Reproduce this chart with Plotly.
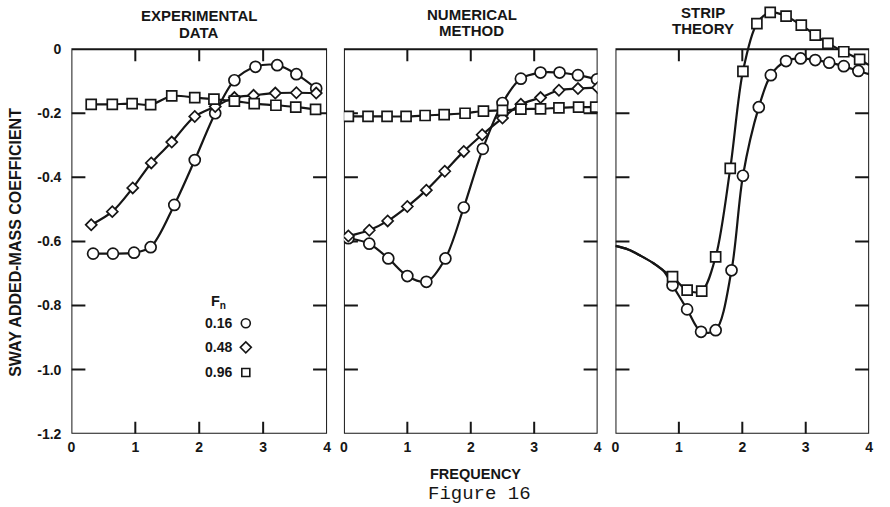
import plotly.graph_objects as go

W, H = 890, 517
GRID_H = 507  # vertical design grid (px) used for paper-relative placement

# ---- axes / labels -------------------------------------------------------
FREQ_TICKS = [0, 1, 2, 3, 4]
FREQ_LABELS = ["0", "1", "2", "3", "4"]
COEF_TICKS = [0, -0.2, -0.4, -0.6, -0.8, -1.0, -1.2]
COEF_LABELS = ["0", "-0.2", "-0.4", "-0.6", "-0.8", "-1.0", "-1.2"]
INNER_Y_TICKS = [-0.2, -0.4, -0.6, -0.8, -1.0]
INNER_X_TICKS = [1, 2, 3]
FROUDE = ["0.16", "0.48", "0.96"]
SYMBOLS = {"0.16": "circle", "0.48": "diamond", "0.96": "square"}
PANEL_TITLES = [("EXPERIMENTAL", "DATA"), ("NUMERICAL", "METHOD"), ("STRIP", "THEORY")]

# ---- experimental data ---------------------------------------------------
exp_freq_016 = [0.34, 0.65, 0.98, 1.24, 1.61, 1.93, 2.25, 2.55, 2.88, 3.22, 3.52, 3.83]
exp_coef_016 = [-0.638, -0.638, -0.635, -0.618, -0.486, -0.346, -0.200, -0.097, -0.055, -0.050, -0.078, -0.123]
exp_freq_048 = [0.31, 0.64, 0.96, 1.25, 1.57, 1.93, 2.25, 2.55, 2.85, 3.19, 3.52, 3.83]
exp_coef_048 = [-0.548, -0.507, -0.433, -0.355, -0.290, -0.210, -0.179, -0.151, -0.144, -0.137, -0.136, -0.137]
exp_freq_096 = [0.31, 0.64, 0.95, 1.24, 1.57, 1.93, 2.23, 2.55, 2.86, 3.20, 3.51, 3.82]
exp_coef_096 = [-0.172, -0.172, -0.170, -0.173, -0.146, -0.151, -0.156, -0.162, -0.170, -0.175, -0.181, -0.188]

# ---- numerical method ----------------------------------------------------
num_freq_016 = [0.07, 0.40, 0.70, 1.00, 1.30, 1.60, 1.89, 2.19, 2.50, 2.79, 3.10, 3.40, 3.69, 3.99]
num_coef_016 = [-0.590, -0.607, -0.653, -0.708, -0.726, -0.653, -0.494, -0.311, -0.168, -0.092, -0.073, -0.073, -0.081, -0.094]
num_freq_048 = [0.07, 0.40, 0.69, 1.00, 1.30, 1.59, 1.89, 2.18, 2.50, 2.79, 3.10, 3.39, 3.69, 4.00]
num_coef_048 = [-0.583, -0.565, -0.536, -0.491, -0.440, -0.381, -0.319, -0.267, -0.215, -0.172, -0.151, -0.128, -0.123, -0.120]
num_freq_096 = [0.07, 0.38, 0.68, 0.98, 1.28, 1.58, 1.91, 2.20, 2.50, 2.79, 3.10, 3.39, 3.70, 3.97]
num_coef_096 = [-0.210, -0.210, -0.210, -0.210, -0.207, -0.204, -0.200, -0.193, -0.191, -0.187, -0.186, -0.183, -0.181, -0.181]

# ---- strip theory --------------------------------------------------------
# low-frequency branch shared by both speeds (curve only, no computed points)
strip_lead_freq = [0.0, 0.2, 0.4, 0.6, 0.75]
strip_lead_coef = [-0.614, -0.625, -0.645, -0.668, -0.690]
strip_freq_016 = [0.90, 1.13, 1.35, 1.58, 1.83, 2.01, 2.26, 2.45, 2.69, 2.92, 3.15, 3.37, 3.60, 3.83]
strip_coef_016 = [-0.737, -0.812, -0.882, -0.877, -0.690, -0.395, -0.181, -0.081, -0.037, -0.029, -0.034, -0.042, -0.053, -0.068]
strip_tail_016 = (4.0, -0.078)
strip_freq_096 = [0.90, 1.13, 1.36, 1.58, 1.81, 2.01, 2.23, 2.44, 2.69, 2.93, 3.15, 3.35, 3.60, 3.85]
strip_coef_096 = [-0.710, -0.752, -0.755, -0.648, -0.372, -0.069, 0.080, 0.115, 0.103, 0.075, 0.044, 0.018, -0.008, -0.032]
strip_tail_096 = (4.0, -0.050)

panels = [
    {"0.16": (exp_freq_016, exp_coef_016),
     "0.48": (exp_freq_048, exp_coef_048),
     "0.96": (exp_freq_096, exp_coef_096)},
    {"0.16": (num_freq_016, num_coef_016),
     "0.48": (num_freq_048, num_coef_048),
     "0.96": (num_freq_096, num_coef_096)},
    {"0.16": (strip_freq_016, strip_coef_016),
     "0.96": (strip_freq_096, strip_coef_096)},
]
strip_tails = {"0.16": strip_tail_016, "0.96": strip_tail_096}

INK = "#161616"
FONT = "Liberation Sans, Arial, Helvetica, sans-serif"
MARKER_SIZE = {"circle": 11, "diamond": 8.5, "square": 10}


def px(x):
    return x / W


def py(y):
    return 1 - y / GRID_H


fig = go.Figure()

axis_names = [("x", "y"), ("x2", "y2"), ("x3", "y3")]
for i, series in enumerate(panels):
    xa, ya = axis_names[i]
    for fn, (fx, fy) in series.items():
        sym = SYMBOLS[fn]
        if i == 2:
            tx, ty = strip_tails[fn]
            fig.add_trace(go.Scatter(
                x=strip_lead_freq + fx + [tx], y=strip_lead_coef + fy + [ty],
                mode="lines", line=dict(color=INK, width=2.2, shape="spline", smoothing=0.9),
                xaxis=xa, yaxis=ya, showlegend=False, hoverinfo="skip"))
            fig.add_trace(go.Scatter(
                x=fx, y=fy, mode="markers",
                marker=dict(symbol=sym, size=MARKER_SIZE[sym], color="white",
                            line=dict(color=INK, width=1.7)),
                xaxis=xa, yaxis=ya, showlegend=False, name=f"Fn = {fn}"))
        else:
            fig.add_trace(go.Scatter(
                x=fx, y=fy, mode="lines+markers",
                line=dict(color=INK, width=2.2, shape="spline", smoothing=0.9),
                marker=dict(symbol=sym, size=MARKER_SIZE[sym], color="white",
                            line=dict(color=INK, width=1.7)),
                xaxis=xa, yaxis=ya, showlegend=False, name=f"Fn = {fn}"))

# ---- layout geometry -----------------------------------------------------
# y range runs a little above 0 so the strip-theory peak can rise over the frame
Y_RANGE = [-1.2, 0.14]
y_dom = [py(432), py(4.3)]
x_doms = [[px(68), px(326)], [px(343), px(599)], [px(617), px(873)]]

layout = dict(
    width=W, height=H,
    margin=dict(l=0, r=0, t=0, b=0),
    paper_bgcolor="white", plot_bgcolor="white",
    font=dict(family=FONT, color=INK, size=14, weight="bold"),
    showlegend=False,
)
for i, (xa, ya) in enumerate(axis_names):
    xkey = "xaxis" if i == 0 else f"xaxis{i + 1}"
    ykey = "yaxis" if i == 0 else f"yaxis{i + 1}"
    layout[xkey] = dict(
        domain=x_doms[i], anchor=ya, range=[0, 4],
        tickvals=FREQ_TICKS, ticktext=FREQ_LABELS, ticks="",
        showline=False, showgrid=False, zeroline=False,
        ticklabelstandoff=3, tickfont=dict(size=14, family=FONT, weight="bold"))
    layout[ykey] = dict(
        domain=y_dom, anchor=xa, range=Y_RANGE,
        tickvals=COEF_TICKS, ticktext=COEF_LABELS, ticks="",
        showticklabels=(i == 0),
        showline=False, showgrid=False, zeroline=False,
        ticklabelstandoff=9, tickfont=dict(size=14, family=FONT, weight="bold"))
fig.update_layout(**layout)

# ---- frames and inward ticks ---------------------------------------------
shapes = []
for xa, ya in axis_names:
    shapes.append(dict(type="rect", xref=xa, yref=ya, x0=0, x1=4, y0=-1.2, y1=0,
                       line=dict(color=INK, width=2), layer="below"))
    for v in INNER_Y_TICKS:
        shapes.append(dict(type="line", xref=xa, yref=ya, xsizemode="pixel", xanchor=0,
                           x0=0, x1=14, y0=v, y1=v, line=dict(color=INK, width=2), layer="below"))
        shapes.append(dict(type="line", xref=xa, yref=ya, xsizemode="pixel", xanchor=4,
                           x0=-14, x1=0, y0=v, y1=v, line=dict(color=INK, width=2), layer="below"))
    for v in INNER_X_TICKS:
        shapes.append(dict(type="line", xref=xa, yref=ya, ysizemode="pixel", yanchor=-1.2,
                           y0=0, y1=12, x0=v, x1=v, line=dict(color=INK, width=2), layer="below"))
        shapes.append(dict(type="line", xref=xa, yref=ya, ysizemode="pixel", yanchor=0,
                           y0=-12, y1=0, x0=v, x1=v, line=dict(color=INK, width=2), layer="below"))

# key symbols, drawn as small outlined shapes
key_rows = (322, 346, 371)
key_x = 244
for fn, yy in zip(FROUDE, key_rows):
    sym = SYMBOLS[fn]
    base = dict(xref="paper", yref="paper", xsizemode="pixel", ysizemode="pixel",
                xanchor=px(key_x), yanchor=py(yy), line=dict(color=INK, width=1.6),
                fillcolor="white")
    if sym == "circle":
        shapes.append(dict(type="circle", x0=-4.5, x1=4.5, y0=-4.5, y1=4.5, **base))
    elif sym == "diamond":
        shapes.append(dict(type="path", path="M -5.5 0 L 0 5.5 L 5.5 0 L 0 -5.5 Z", **base))
    else:
        shapes.append(dict(type="rect", x0=-4, x1=4, y0=-4, y1=4, **base))
fig.update_layout(shapes=shapes)

# ---- text ----------------------------------------------------------------
ann = []
title_pos = [(197, 15.5, 32), (472, 14, 30.5), (705, 12.5, 28.5)]
for (l1, l2), (cx, y1, y2) in zip(PANEL_TITLES, title_pos):
    for txt, yy in ((l1, y1), (l2, y2)):
        ann.append(dict(text=txt, x=px(cx), y=py(yy), xref="paper", yref="paper",
                        xanchor="center", yanchor="middle", showarrow=False,
                        font=dict(size=15, family=FONT, weight="bold")))

ann.append(dict(text="SWAY ADDED-MASS COEFFICIENT", x=px(12), y=py(241),
                xref="paper", yref="paper", xanchor="center", yanchor="middle",
                textangle=-90, showarrow=False,
                font=dict(size=16, family=FONT, weight="bold")))
ann.append(dict(text="FREQUENCY", x=px(476), y=py(472.5), xref="paper", yref="paper",
                xanchor="center", yanchor="middle", showarrow=False,
                font=dict(size=14.5, family=FONT, weight="bold")))
ann.append(dict(text="Figure 16", x=px(480), y=py(492), xref="paper", yref="paper",
                xanchor="center", yanchor="middle", showarrow=False,
                font=dict(size=19, family="Courier New, Liberation Mono, monospace",
                          weight="normal")))

# key: F_n heading with one row per Froude number
ann.append(dict(text="F<sub>n</sub>", x=px(216), y=py(301), xref="paper", yref="paper",
                xanchor="center", yanchor="middle", showarrow=False,
                font=dict(size=14.5, family=FONT, weight="bold")))
for fn, yy in zip(FROUDE, key_rows):
    ann.append(dict(text=fn, x=px(232), y=py(yy), xref="paper", yref="paper",
                    xanchor="right", yanchor="middle", showarrow=False,
                    font=dict(size=14, family=FONT, weight="bold")))
fig.update_layout(annotations=ann)

fig.write_html("out.html")
